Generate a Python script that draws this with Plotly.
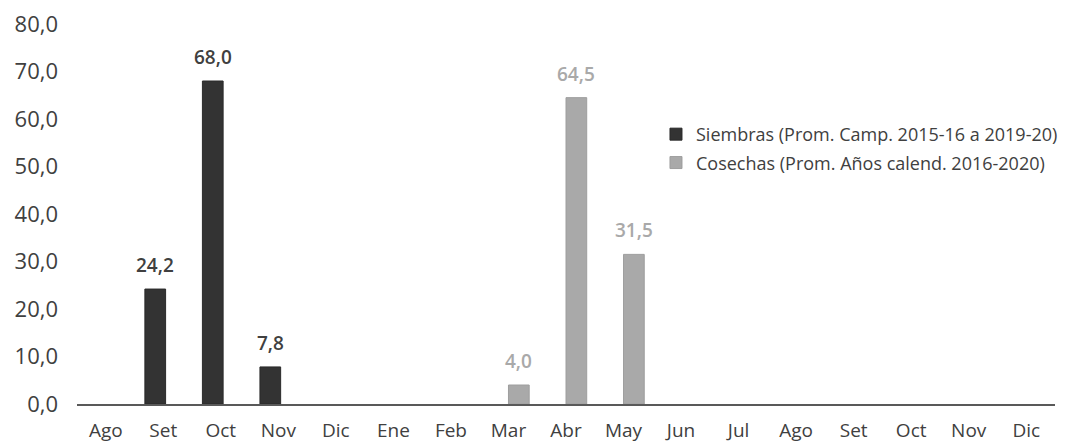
import plotly.graph_objects as go

# Meses del período (agosto a diciembre del año siguiente)
meses = ["Ago", "Set", "Oct", "Nov", "Dic", "Ene", "Feb", "Mar", "Abr",
         "May", "Jun", "Jul", "Ago", "Set", "Oct", "Nov", "Dic"]

# Porcentajes mensuales
siembras = [None, 24.2, 68.0, 7.8, None, None, None, None, None,
            None, None, None, None, None, None, None, None]
cosechas = [None, None, None, None, None, None, None, 4.0, 64.5,
            31.5, None, None, None, None, None, None, None]

nombre_siembras = "Siembras (Prom. Camp. 2015-16 a 2019-20)"
nombre_cosechas = "Cosechas (Prom. Años calend. 2016-2020)"

y_ticks = [0, 10, 20, 30, 40, 50, 60, 70, 80]

COL_S = "#333333"
COL_C = "#a9a9a9"
TXT = "#404040"
FONT = "Open Sans"

BAR_W = 0.36
OFF_S = -0.32
OFF_C = 0.0

pos = list(range(len(meses)))


def fmt(v):
    return f"{v:.1f}".replace(".", ",")


fig = go.Figure()
fig.add_trace(go.Bar(
    x=pos, y=siembras, name=nombre_siembras,
    width=BAR_W, offset=OFF_S,
    marker=dict(color=COL_S, line=dict(color="#2a2a2a", width=1)),
    legendgroup="s",
))
fig.add_trace(go.Bar(
    x=pos, y=cosechas, name=nombre_cosechas,
    width=BAR_W, offset=OFF_C,
    marker=dict(color=COL_C, line=dict(color="#9e9e9e", width=1)),
    legendgroup="c",
))

# Etiquetas de valor sobre cada barra
for serie, off, col in ((siembras, OFF_S, TXT), (cosechas, OFF_C, COL_C)):
    for i, v in enumerate(serie):
        if v is None:
            continue
        fig.add_annotation(
            x=i + off + BAR_W / 2, y=v, text=fmt(v),
            showarrow=False, yanchor="middle", yshift=24,
            font=dict(family=FONT, size=19, color=col, weight=600),
        )

fig.update_layout(
    width=1075, height=443,
    margin=dict(l=77, r=18, t=24, b=39),
    paper_bgcolor="white", plot_bgcolor="white",
    barmode="overlay",
    separators=",.",
    showlegend=True,
    legend=dict(
        x=0.592, y=0.758, xanchor="left", yanchor="top",
        font=dict(family=FONT, size=18, color=TXT),
        traceorder="grouped", tracegroupgap=2,
        bgcolor="rgba(0,0,0,0)", itemwidth=30,
    ),
    font=dict(family=FONT, color=TXT),
)
fig.update_xaxes(
    range=[-0.5, len(meses) - 0.5],
    tickmode="array", tickvals=pos, ticktext=meses,
    showgrid=False, zeroline=False,
    showline=True, linecolor="#595959", linewidth=1.5,
    ticks="", tickfont=dict(family=FONT, size=19, color=TXT),
    ticklabelstandoff=8, automargin=False,
)
fig.update_yaxes(
    range=[0, 80],
    tickmode="array", tickvals=y_ticks, tickformat=".1f",
    showgrid=False, zeroline=False, showline=False,
    ticks="", tickfont=dict(family=FONT, size=22, color=TXT),
    ticklabelstandoff=18, automargin=False,
)

fig.write_html("out.html")
